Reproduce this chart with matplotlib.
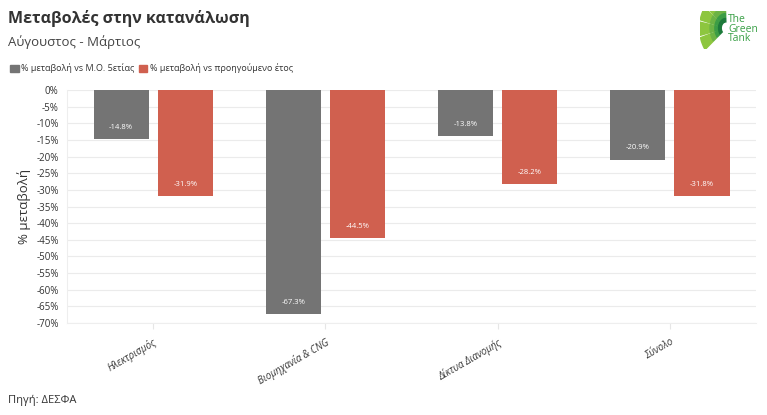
import matplotlib
matplotlib.use('Agg')
from matplotlib import pyplot as plt
from matplotlib.patches import Patch, Wedge
import numpy as np

plt.rcParams['font.family'] = ['Open Sans', 'DejaVu Sans']

categories = ['Ηλεκτρισμός', 'Βιομηχανία & CNG', 'Δίκτυα Διανομής', 'Σύνολο']
vs_5yr_avg = [-14.8, -67.3, -13.8, -20.9]
vs_prev_year = [-31.9, -44.5, -28.2, -31.8]
series_names = ['% μεταβολή vs Μ.Ο. 5ετίας', '% μεταβολή vs προηγούμενο έτος']
yticks = list(range(0, -75, -5))

gray = '#747474'
red = '#d0604f'

fig = plt.figure(figsize=(7.67, 4.15), dpi=100)
ax = fig.add_axes([0.0874, 0.2217, 0.8983, 0.5614])

x = np.arange(len(categories))
w = 0.32
off = 0.186
b1 = ax.bar(x - off, vs_5yr_avg, w, color=gray, zorder=3)
b2 = ax.bar(x + off, vs_prev_year, w, color=red, zorder=3)

for bars, vals in ((b1, vs_5yr_avg), (b2, vs_prev_year)):
    for b, v in zip(bars, vals):
        ax.annotate(f'{v:.1f}%', (b.get_x() + b.get_width() / 2, v),
                    xytext=(0, 6), textcoords='offset points',
                    ha='center', va='bottom', color='white', fontsize=5.5, zorder=4)

ax.set_ylim(-70, 0)
ax.set_xlim(-0.5, 3.5)
ax.set_yticks(yticks)
ax.set_yticklabels([f'{t}%' for t in yticks])
ax.yaxis.grid(True, color='#ebebeb', linewidth=0.8, zorder=0)
ax.set_xticks(x)
ax.set_xticklabels(categories, rotation=30, ha='right', rotation_mode='anchor',
                   fontsize=7, color='#333333', style='italic')
ax.tick_params(axis='y', labelsize=7, colors='#333333', length=0, pad=6)
ax.tick_params(axis='x', length=4, color='#e6e6e6', pad=6)
for s in ['top', 'right']:
    ax.spines[s].set_visible(False)
ax.spines['left'].set_color('#eeeeee')
ax.spines['bottom'].set_color('#eeeeee')
ax.set_ylabel('% μεταβολή', fontsize=9.5, color='#333333', labelpad=4)

fig.text(0.0105, 0.955, 'Μεταβολές στην κατανάλωση', fontsize=11.5, fontweight='bold',
         color='#333333', va='center')
fig.text(0.0105, 0.898, 'Αύγουστος - Μάρτιος', fontsize=9.5, color='#444444', va='center')

handles = [Patch(color=gray), Patch(color=red)]
fig.legend(handles, series_names, loc='center left', bbox_to_anchor=(0.003, 0.835),
           ncol=2, frameon=False, fontsize=6.5, handlelength=0.9, handleheight=0.9,
           handletextpad=0.3, columnspacing=0.5, labelcolor='#333333')

fig.text(0.0105, 0.035, 'Πηγή: ΔΕΣΦΑ', fontsize=8, color='#333333', va='center')

# logo: fan of squares + text
lx = fig.add_axes([0.912, 0.882, 0.038, 0.092])
lx.set_xlim(-1.0, 0.1)
lx.set_ylim(-0.6, 0.5)
lx.axis('off')
ring_colors = ['#8dc63f', '#6cb344', '#3c9d45', '#1d7a3b']
radii = [(0.62, 1.0), (0.44, 0.6), (0.3, 0.42), (0.18, 0.28)]
for (r0, r1), c in zip(radii, ring_colors):
    n = 5
    for k in range(n):
        a0 = 90 + k * 130 / n + 2
        a1 = 90 + (k + 1) * 130 / n - 2
        lx.add_patch(Wedge((0, 0), r1, a0, a1, width=r1 - r0, color=c))
fig.text(0.949, 0.93, 'The\nGreen\nTank', fontsize=7.5, color='#3aa047', va='center',
         ha='left', linespacing=0.85)

fig.savefig('out.png', dpi=100)
